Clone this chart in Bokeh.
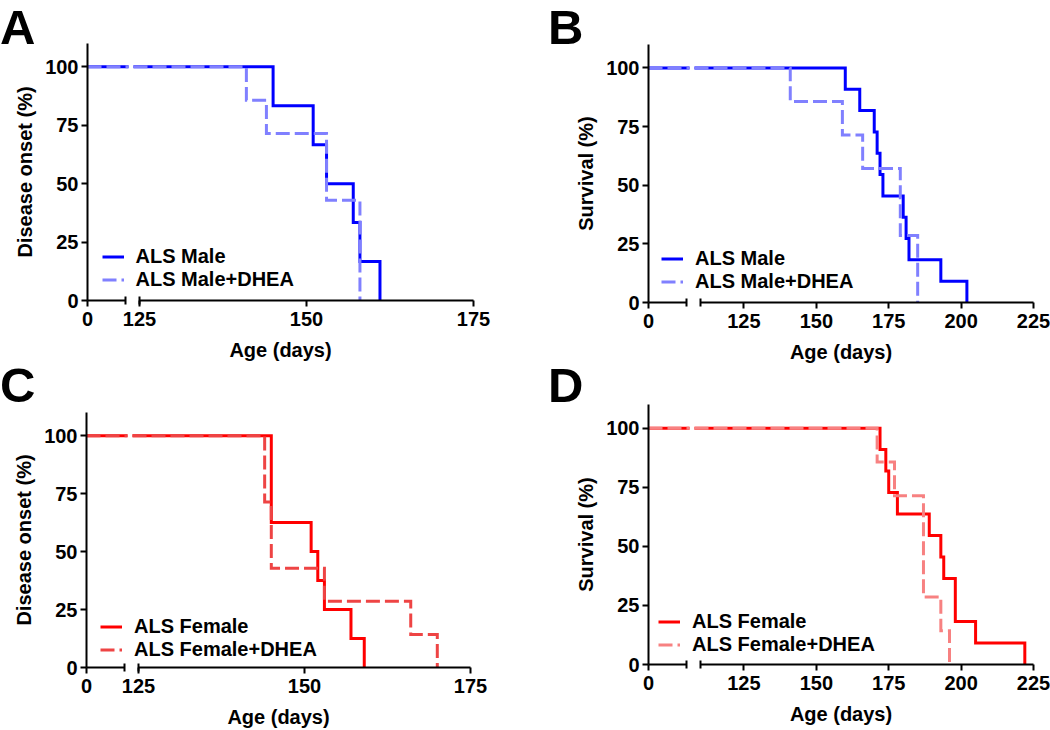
import numpy as np
from bokeh.plotting import figure
from bokeh.models import (Range1d, LinearAxis, FixedTicker, Legend, LegendItem, Div,
                          CustomJSTickFormatter)
from bokeh.layouts import row, column
from bokeh.embed import file_html
from bokeh.resources import INLINE

# ---------------- data (event ages in days, no censoring) ----------------
panel_letters = ["A", "B", "C", "D"]
y_titles = ["Disease onset (%)", "Survival (%)", "Disease onset (%)", "Survival (%)"]
x_title = "Age (days)"
y_ticks = [0, 25, 50, 75, 100]

a_labels = ["ALS Male", "ALS Male+DHEA"]
a_ctrl = [145, 151, 153, 157, 158, 161]
a_dhea = [141, 144, 153, 153, 158, 158, 158]
a_ticks = [125, 150, 175]

b_labels = ["ALS Male", "ALS Male+DHEA"]
b_ctrl = [160, 165, 170, 171, 172, 173, 180, 181, 182, 193, 202]
b_dhea = [141, 159, 166, 179, 179, 185, 185]
b_ticks = [125, 150, 175, 200, 225]

c_labels = ["ALS Female", "ALS Female+DHEA"]
c_ctrl = [145, 145, 145, 151, 152, 153, 157, 159]
c_dhea = [144, 144, 145, 145, 153, 166, 170]
c_ticks = [125, 150, 175]

d_labels = ["ALS Female", "ALS Female+DHEA"]
d_ctrl = [172, 174, 175, 178, 189, 193, 194, 198, 198, 205, 222]
d_dhea = [171, 177, 187, 187, 187, 193, 196]
d_ticks = [125, 150, 175, 200, 225]

# x-axis break: first segment 0..BREAK_CAP, second segment seg2_start..end
BREAK_CAP = 10
a_seg2 = (125, 175)
b_seg2 = (110, 225)
c_seg2 = (125, 175)
d_seg2 = (110, 225)

colors = {
    "A": ("#0000FF", "#8080FF"),
    "B": ("#0000FF", "#8080FF"),
    "C": ("#FF0000", "#EE4444"),
    "D": ("#FF0000", "#F78181"),
}

FONT = "Liberation Sans"

# ---------------- layout constants (pixels) ----------------
CAP_PX = 37.5        # first segment end cap, from frame left
LINE_END_PX = 41     # end of first line piece
LINE_START_PX = 46   # start of second line piece
AXIS_START_PX = 52   # start of second axis segment


def km_path(times):
    ts = sorted(times)
    n = len(ts)
    xs, ys = [0.0], [100.0]
    remaining = n
    for t in sorted(set(ts)):
        xs.append(float(t)); ys.append(ys[-1])
        remaining -= ts.count(t)
        xs.append(float(t)); ys.append(100.0 * remaining / n)
    return xs, ys


def clip_path(xs, ys, lo, hi):
    ox, oy = [], []
    for i in range(len(xs) - 1):
        x0, x1, y0, y1 = xs[i], xs[i + 1], ys[i], ys[i + 1]
        if x1 < lo or x0 > hi:
            continue
        cx0, cx1 = max(x0, lo), min(x1, hi)
        pts = [(cx0, y0), (cx1, y1 if x0 == x1 else y0)]
        for px, py in pts:
            if not ox or (ox[-1], oy[-1]) != (px, py):
                ox.append(px); oy.append(py)
    return ox, oy


def style(ax):
    ax.axis_line_width = 2
    ax.axis_line_color = "black"
    ax.major_tick_line_width = 2
    ax.minor_tick_line_width = 2
    ax.major_tick_line_color = "black"
    ax.minor_tick_line_color = "black"
    ax.major_tick_out = 6
    ax.major_tick_in = 0
    ax.minor_tick_out = 0
    ax.minor_tick_in = 0
    ax.major_label_standoff = 3
    ax.major_label_text_font = FONT
    ax.major_label_text_font_style = "bold"
    ax.major_label_text_font_size = "20px"
    ax.major_label_text_color = "black"
    ax.axis_label_text_font = FONT
    ax.axis_label_text_font_style = "bold"
    ax.axis_label_text_font_size = "20px"
    ax.axis_label_text_color = "black"


def line_only_axis(range_name, lo, hi):
    ax = LinearAxis(x_range_name=range_name, ticker=FixedTicker(ticks=[]), bounds=(lo, hi))
    style(ax)
    ax.major_tick_out = 0
    ax.major_label_standoff = 0
    return ax


def make_panel(letter, ytitle, labels, ctrl, dhea, ticks, seg2, geom):
    (div_h, letter_pad, letter_lh, bl, W, br, bt, H, bb, legend_xy) = geom
    R0, R1 = seg2
    k = (W - AXIS_START_PX) / (R1 - R0)
    r_lo = R0 - AXIS_START_PX / k
    kb = CAP_PX / BREAK_CAP

    p = figure(width=bl + W + br, height=bt + H + bb,
               x_range=Range1d(r_lo, R1), y_range=Range1d(0, 110),
               x_axis_location=None, output_backend="svg", toolbar_location=None,
               min_border_left=bl, min_border_right=br,
               min_border_top=bt, min_border_bottom=bb)
    p.extra_x_ranges = {"brk": Range1d(0, W / kb)}
    p.outline_line_color = None
    p.grid.visible = False
    p.border_fill_alpha = 0

    ya = p.yaxis[0]
    style(ya)
    ya.ticker = FixedTicker(ticks=y_ticks)
    ya.axis_label = ytitle
    ya.axis_label_standoff = 6

    # axis line pieces (zero-height axes, drawn at the frame bottom)
    p.add_layout(line_only_axis("brk", 0, BREAK_CAP), "below")
    p.add_layout(line_only_axis("default", R0, R1), "below")

    # ticks, labels, break caps and title over the whole broken axis
    xt = LinearAxis(ticker=FixedTicker(ticks=[r_lo] + list(ticks),
                                       minor_ticks=[r_lo + CAP_PX / k, R0]),
                    formatter=CustomJSTickFormatter(args=dict(lo=R0),
                                                    code="return tick < lo - 0.001 ? '0' : tick.toFixed(0);"),
                    axis_label=x_title)
    style(xt)
    xt.axis_line_color = None
    xt.minor_tick_in = 4
    xt.minor_tick_out = 4
    xt.major_label_standoff = 5
    xt.axis_label_standoff = 10
    p.add_layout(xt, "below")

    # curves
    left_end = LINE_END_PX / kb
    right_start = R0 - (AXIS_START_PX - LINE_START_PX) / k
    sc, dc = colors[letter]
    rends = []
    for times, col, dash in [(ctrl, sc, "solid"), (dhea, dc, "14 5")]:
        xs, ys = km_path(times)
        lx, ly = clip_path(xs, ys, 0, left_end)
        rx, ry = clip_path(xs, ys, right_start, 1e9)
        p.line(lx, ly, x_range_name="brk", line_color=col, line_width=3,
               line_dash=dash, line_join="miter")
        r = p.line(rx, ry, line_color=col, line_width=3, line_dash=dash,
                   line_join="miter")
        rends.append(r)

    leg = Legend(items=[LegendItem(label=labels[0], renderers=[rends[0]]),
                        LegendItem(label=labels[1], renderers=[rends[1]])],
                 location=legend_xy, padding=0, spacing=0, margin=0,
                 glyph_width=22, glyph_height=21, label_height=21, label_standoff=12,
                 label_text_font=FONT, label_text_font_style="bold",
                 label_text_font_size="20px", label_text_color="black",
                 label_text_line_height=1.0,
                 border_line_color=None, background_fill_alpha=0)
    p.add_layout(leg)

    head = Div(text=f'<div style="font-family: \'{FONT}\'; font-weight: bold; font-size: 49px; '
                    f'line-height: {letter_lh}px; padding-left: {letter_pad}px; margin: 0; color: black;">'
                    f'{letter}</div>',
               width=bl + W + br, height=div_h, margin=0, styles={"overflow": "visible"})
    return column(head, p, spacing=0)


# geometry: (letter div height, letter left pad, letter line-height,
#            border_left, frame_w, border_right, border_top, frame_h, border_bottom, legend (x, y))
geoms = {
    "A": (43, 0, 55, 87, 386, 47, 0, 257, 65, (14.5, 9)),
    "B": (43, 28, 55, 128, 385, 17, 1, 259, 62, (13, 9)),
    "C": (38, 0, 40, 86, 384, 50, 9, 256, 62, (14, 6.5)),
    "D": (38, 28, 40, 128, 385, 17, 1, 260, 66, (10, 8)),
}

pa = make_panel("A", y_titles[0], a_labels, a_ctrl, a_dhea, a_ticks, a_seg2, geoms["A"])
pb = make_panel("B", y_titles[1], b_labels, b_ctrl, b_dhea, b_ticks, b_seg2, geoms["B"])
pc = make_panel("C", y_titles[2], c_labels, c_ctrl, c_dhea, c_ticks, c_seg2, geoms["C"])
pd = make_panel("D", y_titles[3], d_labels, d_ctrl, d_dhea, d_ticks, d_seg2, geoms["D"])

layout = column(row(pa, pb, spacing=0), row(pc, pd, spacing=0), spacing=0)
open("out.html", "w").write(file_html(layout, INLINE))
